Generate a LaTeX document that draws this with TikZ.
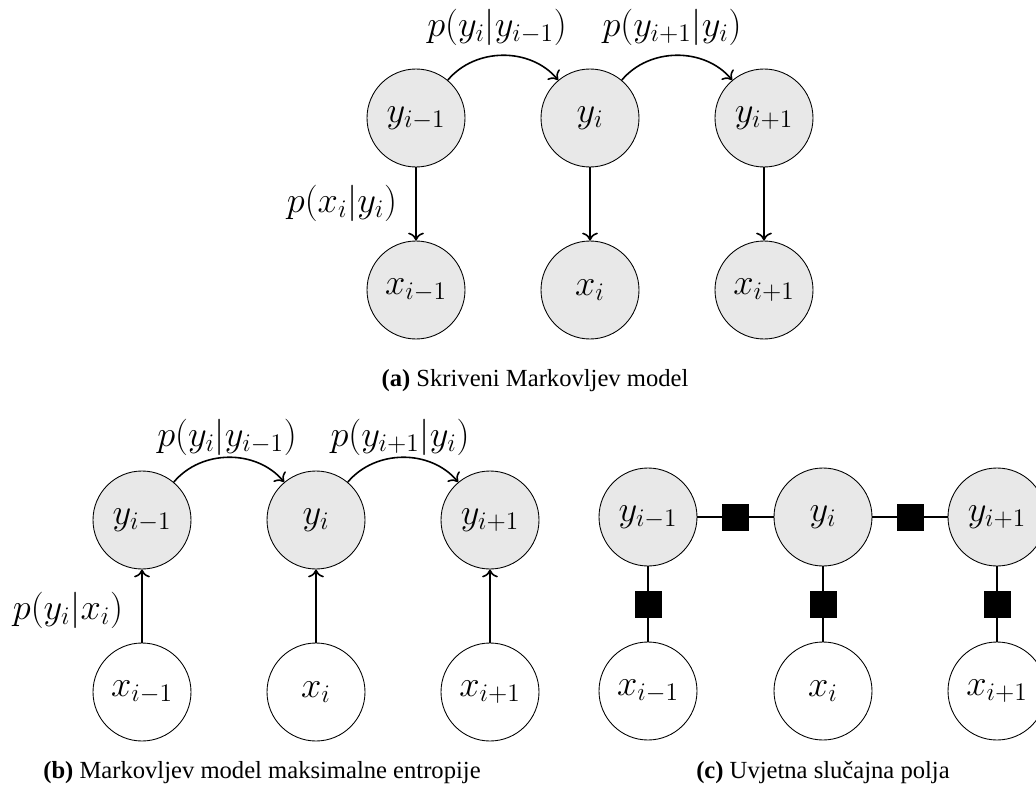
\documentclass[tikz,border=0pt]{standalone}
\usepackage{fontspec}
\setmainfont{Liberation Serif}
\usetikzlibrary{arrows.meta}
\tikzset{
  >={To[length=4.5pt,width=9pt]},
  hid/.style={circle,draw,line width=0.5pt,fill=black!9,minimum size=1.96cm,inner sep=0pt,
    font=\fontsize{21}{25}\selectfont},
  obs/.style={circle,draw,line width=0.5pt,fill=white,minimum size=1.96cm,inner sep=0pt,
    font=\fontsize{21}{25}\selectfont},
  fac/.style={rectangle,fill=black,minimum size=0.54cm,inner sep=0pt},
  lbl/.style={font=\fontsize{21}{25}\selectfont},
  captext/.style={font=\fontsize{14}{17}\selectfont}
}
\begin{document}
\begin{tikzpicture}
      \useasboundingbox (0,0) rectangle (20.72,15.92);
      % (a) skriveni Markovljev model
      \draw
        (8.32,13.56) node[hid] (ya0){$y_{i-1}$}
        (11.80,13.56) node[hid] (ya1){$y_{i}$}
        (15.28,13.56) node[hid] (ya2){$y_{i+1}$}
        (8.32,10.12) node[hid] (xa0){$x_{i-1}$}
        (11.80,10.12) node[hid] (xa1){$x_{i}$}
        (15.28,10.12) node[hid] (xa2){$x_{i+1}$};
      \node[lbl] (pa0) at (9.94,15.38) {$p(y_i|y_{i-1})$};
      \node[lbl] (pa1) at (13.44,15.38) {$p(y_{i+1}|y_i)$};
      \node[lbl] (pa2) at (6.84,11.86) {$p(x_i|y_i)$};
      \node[captext] (capa) at (10.70,8.30) {\textbf{(a)} Skriveni Markovljev model};
      \begin{scope}[->,line width=0.9pt]
        \draw (ya0) to[out=50,in=130] (ya1);
        \draw (ya1) to[out=50,in=130] (ya2);
        \draw (ya0) to (xa0);
        \draw (ya1) to (xa1);
        \draw (ya2) to (xa2);
      \end{scope}
      % (b) Markovljev model maksimalne entropije
      \draw
        (2.84,5.52) node[hid] (yb0){$y_{i-1}$}
        (6.32,5.52) node[hid] (yb1){$y_{i}$}
        (9.80,5.52) node[hid] (yb2){$y_{i+1}$}
        (2.84,2.08) node[obs] (xb0){$x_{i-1}$}
        (6.32,2.08) node[obs] (xb1){$x_{i}$}
        (9.80,2.08) node[obs] (xb2){$x_{i+1}$};
      \node[lbl] (pb0) at (4.54,7.18) {$p(y_i|y_{i-1})$};
      \node[lbl] (pb1) at (8.00,7.18) {$p(y_{i+1}|y_i)$};
      \node[lbl] (pb2) at (1.36,3.72) {$p(y_i|x_i)$};
      \node[captext] (capb) at (5.24,0.46) {\textbf{(b)} Markovljev model maksimalne entropije};
      \begin{scope}[->,line width=0.9pt]
        \draw (yb0) to[out=50,in=130] (yb1);
        \draw (yb1) to[out=50,in=130] (yb2);
        \draw (xb0) to (yb0);
        \draw (xb1) to (yb1);
        \draw (xb2) to (yb2);
      \end{scope}
      % (c) uvjetna slucajna polja
      \draw
        (12.96,5.58) node[hid] (yc0){$y_{i-1}$}
        (16.46,5.58) node[hid] (yc1){$y_{i}$}
        (19.94,5.58) node[hid] (yc2){$y_{i+1}$}
        (12.96,2.10) node[obs] (xc0){$x_{i-1}$}
        (16.46,2.10) node[obs] (xc1){$x_{i}$}
        (19.94,2.10) node[obs] (xc2){$x_{i+1}$};
      \node[captext] (capc) at (16.46,0.46) {\textbf{(c)} Uvjetna slučajna polja};
      \begin{scope}[-,line width=0.9pt]
        \draw (yc0) -- node[fac] (fy0){} (yc1);
        \draw (yc1) -- node[fac] (fy1){} (yc2);
        \draw (yc0) -- node[fac] (fx0){} (xc0);
        \draw (yc1) -- node[fac] (fx1){} (xc1);
        \draw (yc2) -- node[fac] (fx2){} (xc2);
      \end{scope}
    \end{tikzpicture}
\end{document}
